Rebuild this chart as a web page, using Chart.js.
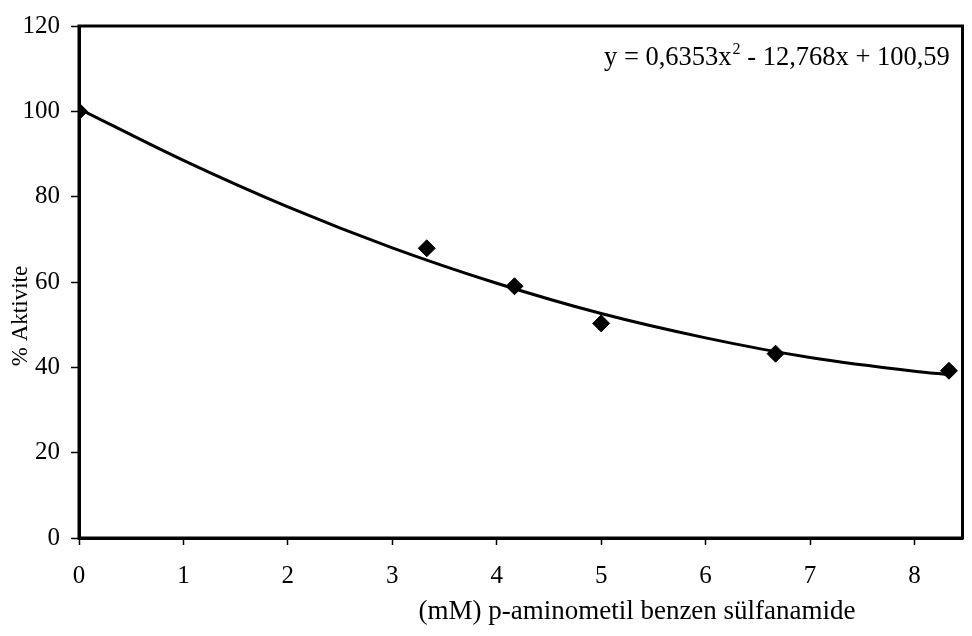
<!DOCTYPE html>
<html>
<head>
<meta charset="utf-8">
<script src="https://cdn.jsdelivr.net/npm/chart.js@4"></script>
<style>
  html, body { margin: 0; padding: 0; background: #fff; }
  #wrap { width: 972px; height: 636px; }
</style>
</head>
<body>
<div id="wrap"><canvas id="myChart"></canvas></div>
<script>
// measured points (mM, % activity)
const concentration = [0, 3.33, 4.17, 5, 6.67, 8.33];
const activity = [100, 67.9, 59.0, 50.3, 43.2, 39.2];

// trend line
const trendX = [0, 1, 2, 3, 4, 5, 6, 7, 8, 8.33];
const trendY = [100.6, 88.5, 77.6, 68.0, 59.7, 52.6, 46.9, 42.3, 39.1, 38.3];

const yTicks = [0, 20, 40, 60, 80, 100, 120];
const xTicks = [0, 1, 2, 3, 4, 5, 6, 7, 8];

const xTitle = "(mM) p-aminometil benzen sülfanamide";
const yTitle = "% Aktivite";
const equation = ["y = 0,6353x", "2", " - 12,768x + 100,59"];

const serif = "'Liberation Serif', 'Times New Roman', serif";

/* marco + textos */
const extras = {
  id: "extras",
  beforeDatasetsDraw(chart) {
    const { ctx, chartArea: a } = chart;
    ctx.save();
    ctx.strokeStyle = "#000";
    ctx.lineWidth = 3;
    ctx.strokeRect(a.left, a.top, a.right - a.left, a.bottom - a.top);
    ctx.restore();
  },
  afterDraw(chart) {
    const ctx = chart.ctx;
    ctx.save();
    ctx.fillStyle = "#000";

    // x title
    ctx.font = "27px " + serif;
    ctx.textAlign = "center";
    ctx.textBaseline = "middle";
    ctx.fillText(xTitle, 637, 612);

    // y title
    ctx.font = "23px " + serif;
    ctx.save();
    ctx.translate(21, 316);
    ctx.rotate(-Math.PI / 2);
    ctx.fillText(yTitle, 0, 0);
    ctx.restore();

    // equation
    ctx.textAlign = "left";
    ctx.textBaseline = "alphabetic";
    let x = 604;
    const base = 65;
    ctx.font = "26.5px " + serif;
    ctx.fillText(equation[0], x, base);
    x += ctx.measureText(equation[0]).width;
    ctx.font = "16px " + serif;
    ctx.fillText(equation[1], x + 1, base - 11);
    x += ctx.measureText(equation[1]).width + 1;
    ctx.font = "26.5px " + serif;
    ctx.fillText(equation[2], x, base);
    ctx.restore();
  }
};

const ctx = document.getElementById("myChart");

new Chart(ctx, {
  type: "scatter",
  data: {
    datasets: [
      {
        label: "trend",
        data: trendX.map((v, i) => ({ x: v, y: trendY[i] })),
        showLine: true,
        borderColor: "#000",
        borderWidth: 3,
        pointRadius: 0,
        cubicInterpolationMode: "monotone",
        order: 2
      },
      {
        label: "Aktivite",
        data: concentration.map((v, i) => ({ x: v, y: activity[i] })),
        pointStyle: "rectRot",
        pointRadius: 8.5,
        backgroundColor: "#000",
        borderColor: "#000",
        borderWidth: 1,
        order: 1
      }
    ]
  },
  options: {
    responsive: true,
    maintainAspectRatio: false,
    animation: false,
    layout: { padding: { top: 15, right: 3, left: 0, bottom: 0 } },
    plugins: {
      legend: { display: false },
      tooltip: { enabled: false }
    },
    scales: {
      x: {
        type: "linear",
        min: 0,
        max: 8.46,
        afterFit: (s) => { s.height = 98; },
        afterBuildTicks: (s) => { s.ticks = xTicks.map((v) => ({ value: v })); },
        ticks: {
          color: "#000",
          font: { family: serif, size: 25 },
          padding: 16,
          maxRotation: 0
        },
        grid: {
          drawOnChartArea: false,
          drawTicks: true,
          tickLength: 7,
          tickColor: "#000",
          tickWidth: 1.5
        },
        border: { display: true, color: "#000", width: 3 }
      },
      y: {
        min: 0,
        max: 120,
        afterFit: (s) => { s.width = 79; },
        afterBuildTicks: (s) => { s.ticks = yTicks.map((v) => ({ value: v })); },
        ticks: {
          color: "#000",
          font: { family: serif, size: 25 },
          padding: 11
        },
        grid: {
          drawOnChartArea: false,
          drawTicks: true,
          tickLength: 8,
          tickColor: "#000",
          tickWidth: 1.5
        },
        border: { display: true, color: "#000", width: 3 }
      }
    }
  },
  plugins: [extras]
});
</script>
</body>
</html>
